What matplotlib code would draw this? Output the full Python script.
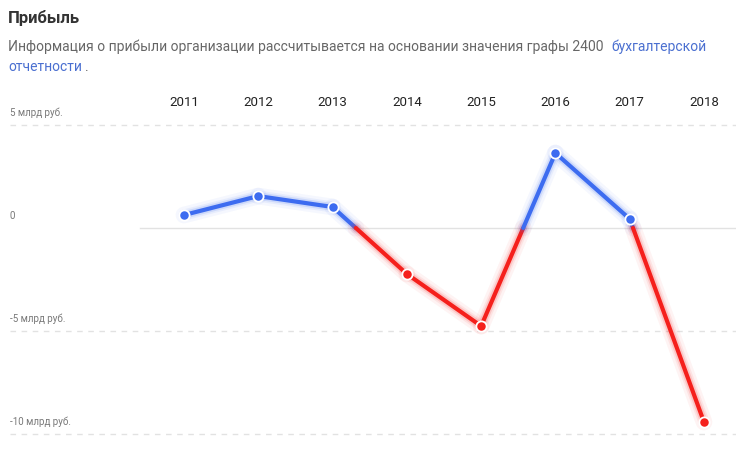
import matplotlib
matplotlib.use("Agg")
import matplotlib.pyplot as plt

years = [2011, 2012, 2013, 2014, 2015, 2016, 2017, 2018]
profit = [0.63, 1.55, 1.02, -2.23, -4.76, 3.64, 0.44, -9.42]
tick_values = [5, 0, -5, -10]
tick_labels = ["5 млрд руб.", "0", "-5 млрд руб.", "-10 млрд руб."]

BLUE = "#3d6cf0"
RED = "#f5201c"

W, H = 736, 474
fig = plt.figure(figsize=(W / 100, H / 100), dpi=100)
plt.rcParams["font.family"] = "Roboto"

fig.text(8 / W, 1 - 18 / H, "Прибыль", fontsize=12, fontweight="bold", color="#333333", va="center")
fig.text(8 / W, 1 - 47 / H, "Информация о прибыли организации рассчитывается на основании значения графы 2400",
         fontsize=10, color="#666666", va="center")
fig.text(611 / W, 1 - 47 / H, "бухгалтерской", fontsize=10, color="#4a6fd0", va="center")
fig.text(8 / W, 1 - 67 / H, "отчетности", fontsize=10, color="#4a6fd0", va="center")
fig.text(85 / W, 1 - 67 / H, ".", fontsize=10, color="#666666", va="center")

ax = fig.add_axes([0, 24 / H, 1, 350 / H])
ax.set_xlim(2011 - 184 / 74.3, 2018 + 32 / 74.3)
ax.set_ylim((228 - 450) / 20.6, (228 - 100) / 20.6)
ax.axis("off")

for v, lab in zip(tick_values, tick_labels):
    if v == 0:
        ax.axhline(0, xmin=140 / W, color="#e2e2e2", lw=1)
    else:
        ax.axhline(v, xmin=10 / W, color="#e2e2e2", lw=1, ls=(0, (4, 4)))
    ax.text(ax.get_xlim()[0] + 10 / 74.3, v + 0.35, lab, fontsize=7, color="#777777", va="bottom")

for y in years:
    ax.text(y, (228 - 103) / 20.6, str(y), fontsize=9.5, color="#222222", ha="center", va="center")

# split line at zero crossings, colour by sign
segs = []
for i in range(len(years) - 1):
    x0, y0, x1, y1 = years[i], profit[i], years[i + 1], profit[i + 1]
    if y0 * y1 < 0:
        xc = x0 + (x1 - x0) * (0 - y0) / (y1 - y0)
        segs.append(([x0, xc], [y0, 0], y0))
        segs.append(([xc, x1], [0, y1], y1))
    else:
        segs.append(([x0, x1], [y0, y1], y0 + y1))

for xs, ys, s in segs:
    c = BLUE if s > 0 else RED
    for lw, a in [(12, 0.05), (8, 0.08), (5.5, 0.15)]:
        ax.plot(xs, ys, color=c, lw=lw, alpha=a, solid_capstyle="round")
    ax.plot(xs, ys, color=c, lw=3, solid_capstyle="round")

for x, y in zip(years, profit):
    c = BLUE if y > 0 else RED
    ax.scatter([x], [y], s=55, color=c, edgecolor="white", linewidth=1.3, zorder=5)

fig.savefig("out.png", dpi=100)
